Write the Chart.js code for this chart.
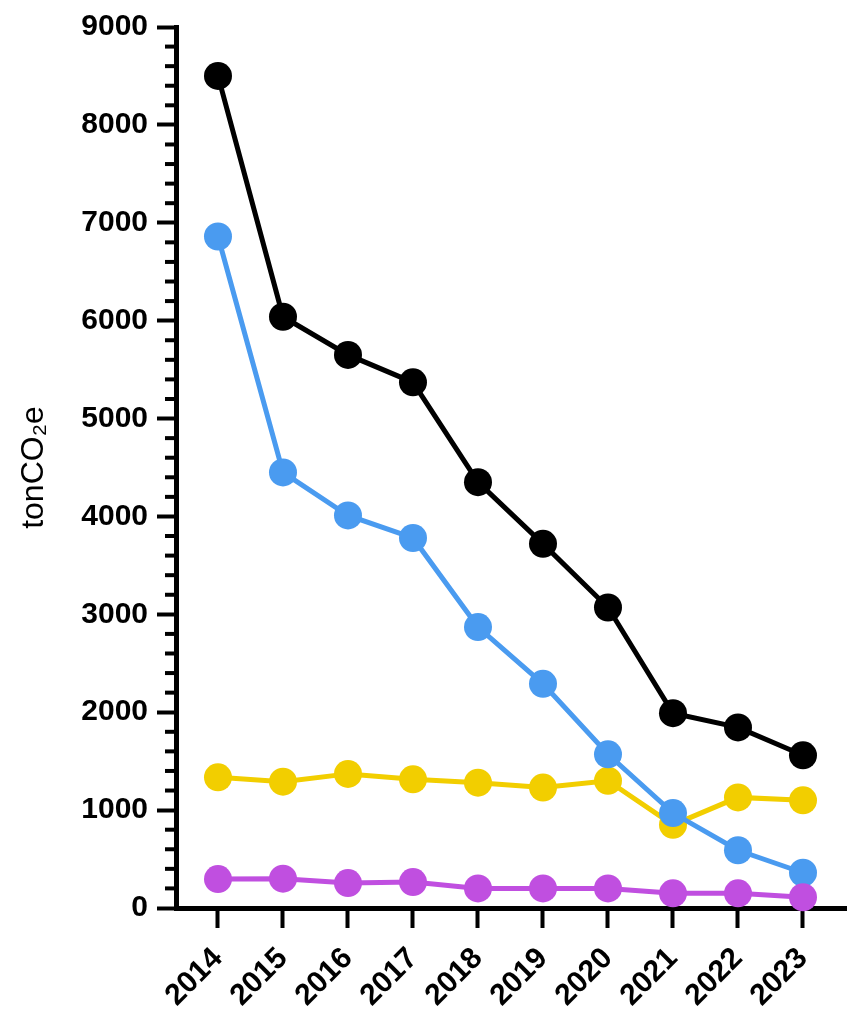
<!DOCTYPE html>
<html>
<head>
<meta charset="utf-8">
<script src="https://cdn.jsdelivr.net/npm/chart.js@4/dist/chart.umd.min.js"></script>
<style>
  html, body { margin: 0; padding: 0; background: #fff; }
  #wrap { width: 847px; height: 1014px; }
</style>
</head>
<body>
<div id="wrap"><canvas id="co2Chart"></canvas></div>
<script>
const years = [2014, 2015, 2016, 2017, 2018, 2019, 2020, 2021, 2022, 2023];
const totalValues = [8500, 6040, 5650, 5370, 4350, 3720, 3070, 1990, 1845, 1560];
const blueValues = [6860, 4450, 4010, 3780, 2870, 2290, 1570, 970, 590, 360];
const yellowValues = [1335, 1290, 1370, 1315, 1280, 1230, 1300, 850, 1130, 1100];
const purpleValues = [295, 300, 255, 265, 200, 200, 200, 150, 150, 110];
const yTicks = [0, 1000, 2000, 3000, 4000, 5000, 6000, 7000, 8000, 9000];
const yTitle = 'tonCO₂e';

const FONT = "'Liberation Sans', Arial, sans-serif";

const toPoints = vals => vals.map((v, i) => ({ x: years[i], y: v }));

function series(vals, color, order) {
    return {
        data: toPoints(vals),
        borderColor: color,
        backgroundColor: color,
        pointBackgroundColor: color,
        pointBorderColor: color,
        borderWidth: 5,
        pointRadius: 14,
        pointBorderWidth: 0,
        tension: 0,
        clip: false,
        order: order,
    };
}

// minor ticks every 200 on the y axis
const minorTicks = {
    id: 'minorTicks',
    afterDraw(chart) {
        const y = chart.scales.y;
        const ctx = chart.ctx;
        const x0 = chart.chartArea.left;
        ctx.save();
        ctx.strokeStyle = '#000';
        ctx.lineWidth = 4;
        for (let v = 200; v < 9000; v += 200) {
            if (v % 1000 === 0) continue;
            const py = y.getPixelForValue(v);
            ctx.beginPath();
            ctx.moveTo(x0 - 11, py);
            ctx.lineTo(x0, py);
            ctx.stroke();
        }
        ctx.restore();
    }
};

new Chart(document.getElementById('co2Chart').getContext('2d'), {
    type: 'line',
    data: {
        datasets: [
            series(totalValues, '#000000', 3),
            series(blueValues, '#4A9BF0', 1),
            series(yellowValues, '#F2CE00', 2),
            series(purpleValues, '#C04FE0', 0),
        ]
    },
    options: {
        responsive: true,
        maintainAspectRatio: false,
        animation: false,
        events: [],
        layout: { autoPadding: false, padding: { top: 25, right: 0, left: 0, bottom: 0 } },
        plugins: { legend: { display: false }, tooltip: { enabled: false } },
        scales: {
            x: {
                type: 'linear',
                min: 2013.354,
                max: 2023.677,
                afterBuildTicks: s => { s.ticks = years.map(v => ({ value: v })); },
                afterFit: s => { s.height = 106; s.paddingLeft = 0; s.paddingRight = 0; },
                border: { display: true, color: '#000', width: 5 },
                grid: { display: true, drawOnChartArea: false, color: '#000', tickLength: 20, tickWidth: 4 },
                ticks: {
                    autoSkip: false,
                    minRotation: 45,
                    maxRotation: 45,
                    padding: 13,
                    color: '#000',
                    font: { family: FONT, size: 30, weight: 'bold' },
                    callback: v => String(v),
                }
            },
            y: {
                min: 0,
                max: 9000,
                afterBuildTicks: s => { s.ticks = yTicks.map(v => ({ value: v })); },
                afterFit: s => { s.width = 176; },
                border: { display: true, color: '#000', width: 5 },
                grid: { display: true, drawOnChartArea: false, color: '#000', tickLength: 19, tickWidth: 4 },
                ticks: {
                    padding: 9,
                    color: '#000',
                    font: { family: FONT, size: 30, weight: 'bold' },
                    callback: v => String(v),
                },
                title: {
                    display: true,
                    text: yTitle,
                    color: '#000',
                    font: { family: FONT, size: 32 },
                    padding: { top: 15, bottom: 0 },
                }
            }
        }
    },
    plugins: [minorTicks]
});
</script>
</body>
</html>
